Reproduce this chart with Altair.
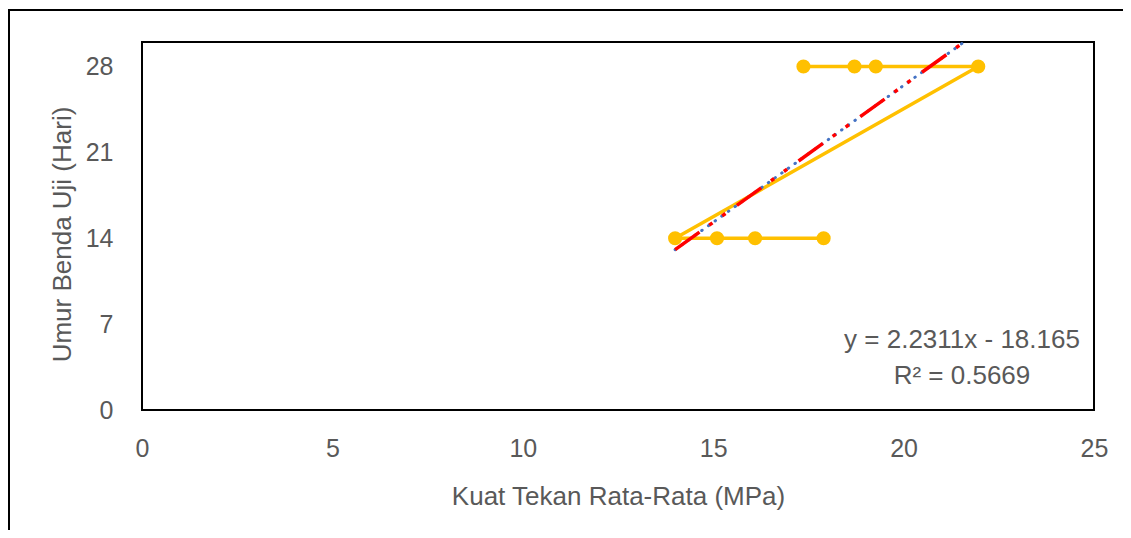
import altair as alt
import pandas as pd

# data
kuat_tekan = [17.9, 16.1, 15.1, 14.0, 21.96, 19.27, 18.71, 17.37]
umur = [14, 14, 14, 14, 28, 28, 28, 28]
order_idx = list(range(len(kuat_tekan)))

slope = 2.2311
intercept = -18.165
trend_x = [14.0, 21.96]
trend_y = [slope * v + intercept for v in trend_x]

x_ticks = [0, 5, 10, 15, 20, 25]
y_ticks = [0, 7, 14, 21, 28]

eq_line1 = "y = 2.2311x - 18.165"
eq_line2 = "R² = 0.5669"

FONT = "Liberation Sans"
GREY = "#595959"

df = pd.DataFrame({"x": kuat_tekan, "y": umur, "i": order_idx})
tr = pd.DataFrame({"x": trend_x, "y": trend_y})

xs = alt.Scale(domain=[0, 25], nice=False, zero=False)
ys = alt.Scale(domain=[0, 30], nice=False, zero=False)

x_axis = alt.Axis(values=x_ticks, title="Kuat Tekan Rata-Rata (MPa)", grid=False,
                  domain=False, ticks=False, labelPadding=38, labelBaseline="middle",
                  labelFlush=False,
                  labelFontSize=25, labelColor=GREY, labelFont=FONT,
                  titleFontSize=26, titleColor=GREY, titleFont=FONT, titleFontWeight="normal",
                  titleX=476, titleY=86, titleBaseline="middle", titleAlign="center")
y_axis = alt.Axis(values=y_ticks, title="Umur Benda Uji (Hari)", grid=False,
                  domain=False, ticks=False, labelPadding=29, labelFlush=False,
                  labelFontSize=25, labelColor=GREY, labelFont=FONT,
                  titleFontSize=26, titleColor=GREY, titleFont=FONT, titleFontWeight="normal",
                  titleAngle=270, titleX=-80, titleY=192, titleBaseline="middle",
                  titleAlign="center")

base_x = alt.X("x:Q", scale=xs, axis=x_axis)
base_y = alt.Y("y:Q", scale=ys, axis=y_axis)

line = alt.Chart(df).mark_line(color="#FFC000", strokeWidth=3.5).encode(
    x=base_x, y=base_y, order=alt.Order("i:Q"))
pts = alt.Chart(df).mark_circle(color="#FFC000", size=200, opacity=1).encode(
    x="x:Q", y="y:Q")

blue = alt.Chart(tr).mark_line(color="#4472C4", strokeWidth=3, strokeCap="round",
                               strokeDash=[0.5, 7.7], clip=True).encode(x="x:Q", y="y:Q")
red = alt.Chart(tr).mark_line(color="#FF0000", strokeWidth=3.5, clip=True,
                              strokeDash=[30, 12, 4, 12, 4, 14]).encode(x="x:Q", y="y:Q")

one = pd.DataFrame({"a": [0]})
eq1 = alt.Chart(one).mark_text(font=FONT, fontSize=26, color=GREY, align="center",
                               baseline="middle", text=eq_line1).encode(
    x=alt.value(820), y=alt.value(298))
eq2 = alt.Chart(one).mark_text(font=FONT, fontSize=26, color=GREY, align="center",
                               baseline="middle", text=eq_line2).encode(
    x=alt.value(820), y=alt.value(334))

frame_top = alt.Chart(one).mark_rule(color="#000000", strokeWidth=2, clip=False).encode(
    x=alt.value(-134), x2=alt.value(1000), y=alt.value(-32))
frame_left = alt.Chart(one).mark_rule(color="#000000", strokeWidth=2, clip=False).encode(
    x=alt.value(-133), y=alt.value(-32), y2=alt.value(500))

chart = alt.layer(line, pts, blue, red, eq1, eq2, frame_top, frame_left).properties(
    width=952, height=368,
    autosize=alt.AutoSizeParams(type="none"),
    padding={"left": 134, "top": 34, "right": 29, "bottom": 120},
    background="#FFFFFF",
).configure_view(stroke="#000000", strokeWidth=2)

chart.save("out.html", embed_options={"renderer": "svg", "actions": False})
